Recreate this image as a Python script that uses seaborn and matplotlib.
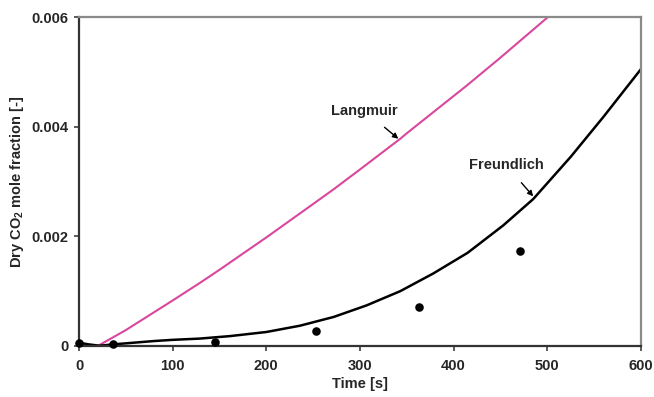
import matplotlib
matplotlib.use("Agg")
import matplotlib.pyplot as plt
import seaborn as sns
import pandas as pd
from matplotlib.ticker import FixedLocator, FuncFormatter

# Experimental points
exp_time = [0, 36, 145, 253, 363, 471]
exp_frac = [0.00005, 0.00003, 0.00007, 0.00027, 0.00071, 0.00174]

# Langmuir model curve
lang_time = [20, 50, 100, 129, 150, 200, 250, 272, 300, 343, 350, 400, 414, 450, 500]
lang_frac = [0.0, 0.00029, 0.00083, 0.00115, 0.00139, 0.00198, 0.00259, 0.00286,
             0.00322, 0.00378, 0.00388, 0.00456, 0.00475, 0.00526, 0.00599]

# Freundlich model curve
freu_time = [0, 10, 22, 37, 80, 100, 129, 161, 200, 236, 272, 307, 343, 378,
             415, 453, 485, 525, 560, 600]
freu_frac = [0.00006, 0.00003, 0.000005, 0.00003, 0.00009, 0.000112, 0.000135,
             0.00018, 0.000255, 0.00037, 0.00053, 0.00074, 0.00100, 0.00132,
             0.00170, 0.00220, 0.00268, 0.00345, 0.00418, 0.00505]

x_ticks = [0, 100, 200, 300, 400, 500, 600]
y_ticks = [0, 0.002, 0.004, 0.006]

sns.set_theme(style="white")
plt.rcParams["font.family"] = ["Liberation Sans", "DejaVu Sans"]
plt.rcParams["font.weight"] = "bold"
plt.rcParams["mathtext.fontset"] = "custom"
plt.rcParams["mathtext.bf"] = "Liberation Sans:bold"
plt.rcParams["mathtext.rm"] = "Liberation Sans:bold"

FS = 10.5

fig = plt.figure(figsize=(6.54, 3.97), dpi=100)
ax = fig.add_axes([0.1208, 0.1285, 0.8592, 0.8285])

lang_df = pd.DataFrame({"t": lang_time, "y": lang_frac})
freu_df = pd.DataFrame({"t": freu_time, "y": freu_frac})
exp_df = pd.DataFrame({"t": exp_time, "y": exp_frac})

sns.lineplot(data=lang_df, x="t", y="y", ax=ax, color="#D9479D", linewidth=1.5,
             sort=False, estimator=None)
sns.lineplot(data=freu_df, x="t", y="y", ax=ax, color="black", linewidth=1.8,
             sort=False, estimator=None)
sns.scatterplot(data=exp_df, x="t", y="y", ax=ax, color="black", s=38,
                edgecolor="black", linewidth=0, zorder=5, clip_on=False)

ax.set_xlim(0, 600)
ax.set_ylim(0, 0.006)
ax.xaxis.set_major_locator(FixedLocator(x_ticks))
ax.yaxis.set_major_locator(FixedLocator(y_ticks))
ax.yaxis.set_major_formatter(FuncFormatter(lambda v, p: "0" if v == 0 else f"{v:.3f}"))
ax.xaxis.set_major_formatter(FuncFormatter(lambda v, p: f"{v:.0f}"))

ax.tick_params(axis="both", which="major", direction="out", length=3.5, width=1.2,
               color="#404040", labelsize=FS, pad=4, bottom=True, left=True)
ax.tick_params(axis="x", pad=6)
for lab in ax.get_xticklabels() + ax.get_yticklabels():
    lab.set_fontweight("bold")

for side in ["left", "bottom"]:
    ax.spines[side].set_color("#333333")
    ax.spines[side].set_linewidth(1.6)
for side in ["top", "right"]:
    ax.spines[side].set_color("#8a8a8a")
    ax.spines[side].set_linewidth(1.6)

ax.set_xlabel("Time [s]", fontsize=FS, fontweight="bold", labelpad=3)
ax.set_ylabel("Dry CO$_\\mathregular{2}$ mole fraction [-]", fontsize=FS, fontweight="bold")
ax.yaxis.set_label_coords(-0.095, 0.5)

ax.annotate("Langmuir", xy=(341, 0.00378), xytext=(305, 0.00429),
            fontsize=FS, fontweight="bold", ha="center", va="center",
            arrowprops=dict(arrowstyle="-|>", color="black", lw=1.0,
                            shrinkA=7, shrinkB=0, mutation_scale=8))
ax.annotate("Freundlich", xy=(485, 0.00273), xytext=(456, 0.0033),
            fontsize=FS, fontweight="bold", ha="center", va="center",
            arrowprops=dict(arrowstyle="-|>", color="black", lw=1.0,
                            shrinkA=7, shrinkB=0, mutation_scale=8))

fig.savefig("out.png", dpi=100)
